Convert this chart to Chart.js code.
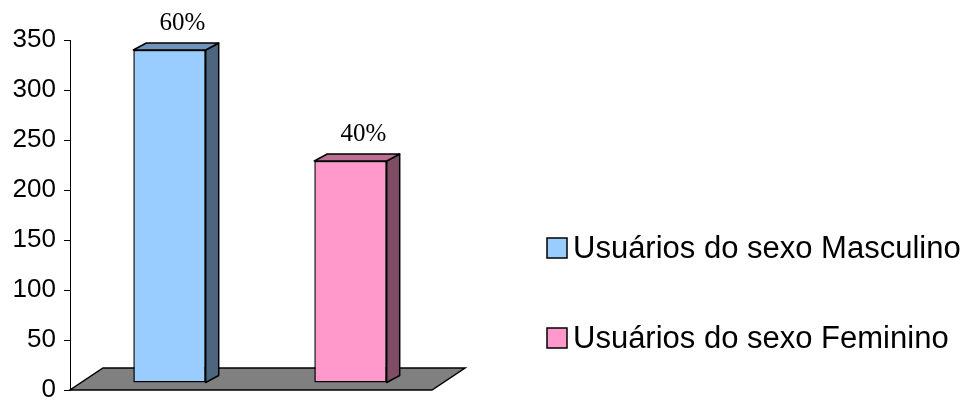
<!DOCTYPE html>
<html>
<head>
<meta charset="utf-8">
<script src="https://cdn.jsdelivr.net/npm/chart.js@4.4.0/dist/chart.umd.min.js"></script>
<style>
html,body{margin:0;padding:0;background:#fff;}
</style>
</head>
<body>
<canvas id="chart" width="971" height="400"></canvas>
<script>
const categories = ['Usuários do sexo Masculino','Usuários do sexo Feminino']
const users = [333,222]
const percentLabels = ['60%','40%']
const yTicks = [0,50,100,150,200,250,300,350]

const frontColors = ['#99CCFF','#FF99CC']
const sideColors = ['#4D6680','#804D66']
const topColors = ['#6F93BB','#BB6F93']

// fake 3d: bars sit a bit behind the axis plane, on a grey floor
const shift = {x:9, y:-7}
const depth = {x:13, y:-7}
const floorDepth = {x:33, y:-22}

const bars3d = {
  id:'bars3d',
  beforeDatasetsDraw(chart){
    const ctx = chart.ctx
    const a = chart.chartArea
    const y0 = chart.scales.y.getPixelForValue(0)
    ctx.save()
    ctx.beginPath()
    ctx.moveTo(a.left,y0)
    ctx.lineTo(a.right,y0)
    ctx.lineTo(a.right+floorDepth.x,y0+floorDepth.y)
    ctx.lineTo(a.left+floorDepth.x,y0+floorDepth.y)
    ctx.closePath()
    ctx.fillStyle='#808080'
    ctx.fill()
    ctx.lineWidth=1.5
    ctx.strokeStyle='#000'
    ctx.stroke()
    ctx.restore()
    ctx.save()
    ctx.translate(shift.x,shift.y)
  },
  afterDatasetsDraw(chart){
    const ctx = chart.ctx
    ctx.lineWidth=1.5
    ctx.strokeStyle='#000'
    ctx.lineJoin='round'
    chart.getDatasetMeta(0).data.forEach((bar,i)=>{
      const p = bar.getProps(['x','y','base','width'],true)
      const l = p.x-p.width/2, r = p.x+p.width/2
      // side face
      ctx.beginPath()
      ctx.moveTo(r,p.y)
      ctx.lineTo(r+depth.x,p.y+depth.y)
      ctx.lineTo(r+depth.x,p.base+depth.y)
      ctx.lineTo(r,p.base)
      ctx.closePath()
      ctx.fillStyle=sideColors[i]
      ctx.fill()
      ctx.stroke()
      // top face
      ctx.beginPath()
      ctx.moveTo(l,p.y)
      ctx.lineTo(l+depth.x,p.y+depth.y)
      ctx.lineTo(r+depth.x,p.y+depth.y)
      ctx.lineTo(r,p.y)
      ctx.closePath()
      ctx.fillStyle=topColors[i]
      ctx.fill()
      ctx.stroke()
      // percent label
      ctx.fillStyle='#000'
      ctx.font='25px "Liberation Serif", "Times New Roman", serif'
      ctx.textAlign='center'
      ctx.textBaseline='alphabetic'
      ctx.fillText(percentLabels[i],p.x+13,p.y-20)
    })
    ctx.restore()
  }
}

const sideLegend = {
  id:'sideLegend',
  afterDraw(chart){
    const ctx = chart.ctx
    ctx.save()
    ctx.font='31px "Liberation Sans", Arial, sans-serif'
    ctx.textAlign='left'
    ctx.textBaseline='alphabetic'
    categories.forEach((c,i)=>{
      const top = 238+i*90
      ctx.fillStyle=frontColors[i]
      ctx.fillRect(547,top,20,20)
      ctx.lineWidth=1.5
      ctx.strokeStyle='#000'
      ctx.strokeRect(547,top,20,20)
      ctx.fillStyle='#000'
      ctx.fillText(c,573,top+20)
    })
    ctx.restore()
  }
}

new Chart(document.getElementById('chart'),{
  type:'bar',
  data:{
    labels:categories,
    datasets:[{
      data:users,
      backgroundColor:frontColors,
      borderColor:'#000',
      borderWidth:1.5,
      borderSkipped:false,
      barPercentage:0.4,
      categoryPercentage:1,
      clip:false
    }]
  },
  options:{
    responsive:false,
    animation:false,
    layout:{padding:{top:40,right:539,bottom:10,left:0}},
    plugins:{legend:{display:false},tooltip:{enabled:false}},
    scales:{
      x:{display:false},
      y:{
        min:0,max:350,
        afterBuildTicks:s=>{ s.ticks=yTicks.map(v=>({value:v})) },
        afterFit:s=>{ s.width=70; s.paddingTop=0; s.paddingBottom=0 },
        ticks:{color:'#000',padding:8,font:{family:'"Liberation Sans", Arial, sans-serif',size:26}},
        grid:{drawOnChartArea:false,drawTicks:true,tickLength:6,color:'#000'},
        border:{display:true,color:'#000',width:1}
      }
    }
  },
  plugins:[bars3d,sideLegend]
})
</script>
</body>
</html>
